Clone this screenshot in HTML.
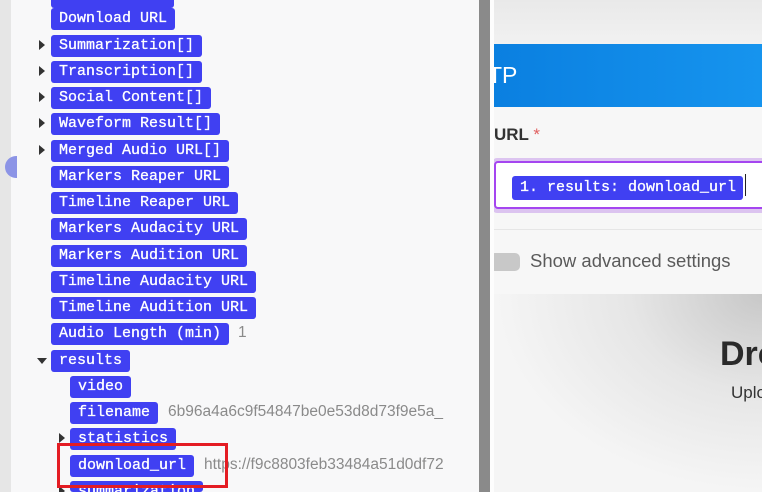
<!DOCTYPE html>
<html><head><style>
*{margin:0;padding:0;box-sizing:border-box}
html,body{width:762px;height:492px;overflow:hidden}
body{position:relative;background:#f8f8f9;font-family:"Liberation Sans",sans-serif}
.strip{position:absolute;left:0;top:0;width:11px;height:492px;background:#e6e6e6}
.knob{position:absolute;left:5px;top:156px;width:12px;height:22px;border-radius:11px 0 0 11px;background:#8c94e6}
.p{position:absolute;height:22px;background:#4040f2;color:#fff;border-radius:3px;font-family:"Liberation Mono",monospace;font-size:15px;line-height:22px;padding:0 8px;white-space:nowrap;font-weight:normal;-webkit-text-stroke:0.3px #fff}
.t{position:absolute;width:0;height:0;border-top:5px solid transparent;border-bottom:5px solid transparent;border-left:6px solid #333}
.td{position:absolute;width:0;height:0;border-left:5px solid transparent;border-right:5px solid transparent;border-top:6px solid #333}
.v{position:absolute;color:#8a8a8a;font-size:15.5px;white-space:nowrap}
.bar{position:absolute;left:479px;top:0;width:11px;height:492px;background:#8a8a8a}
.wh{position:absolute;left:490px;top:0;width:4px;height:492px;background:#fdfdfd}
.right{position:absolute;left:494px;top:0;width:268px;height:492px;background:#f7f7f7;overflow:hidden}
</style></head><body>
<div class="strip"></div><div class="knob"></div>
<div class="p" style="left:51px;top:-14px;width:123px"></div>
<div class="p" style="left:51px;top:8px">Download URL</div>
<div class="t" style="left:39px;top:40px"></div><div class="p" style="left:51px;top:35px">Summarization[]</div>
<div class="t" style="left:39px;top:66px"></div><div class="p" style="left:51px;top:61px">Transcription[]</div>
<div class="t" style="left:39px;top:92px"></div><div class="p" style="left:51px;top:87px">Social Content[]</div>
<div class="t" style="left:39px;top:118px"></div><div class="p" style="left:51px;top:113px">Waveform Result[]</div>
<div class="t" style="left:39px;top:145px"></div><div class="p" style="left:51px;top:140px">Merged Audio URL[]</div>
<div class="p" style="left:51px;top:166px">Markers Reaper URL</div>
<div class="p" style="left:51px;top:192px">Timeline Reaper URL</div>
<div class="p" style="left:51px;top:218px">Markers Audacity URL</div>
<div class="p" style="left:51px;top:245px">Markers Audition URL</div>
<div class="p" style="left:51px;top:271px">Timeline Audacity URL</div>
<div class="p" style="left:51px;top:297px">Timeline Audition URL</div>
<div class="p" style="left:51px;top:323px">Audio Length (min)</div><div class="v" style="left:238px;top:324px">1</div>
<div class="td" style="left:37px;top:358px"></div><div class="p" style="left:51px;top:350px">results</div>
<div class="p" style="left:70px;top:376px">video</div>
<div class="p" style="left:70px;top:402px">filename</div><div class="v" style="left:168px;top:403px;width:290px;overflow:hidden">6b96a4a6c9f54847be0e53d8d73f9e5a_</div>
<div class="t" style="left:59px;top:433px"></div><div class="p" style="left:70px;top:428px">statistics</div>
<div class="p" style="left:70px;top:455px">download_url</div><div class="v" style="left:204px;top:456px;width:255px;overflow:hidden">https://f9c8803feb33484a51d0df72</div>
<div class="t" style="left:59px;top:486px"></div><div class="p" style="left:70px;top:481px;height:11px">summarization</div>
<div style="position:absolute;left:57px;top:443px;width:171px;height:45px;border:3px solid #e41c23"></div>
<div class="bar"></div><div class="wh"></div>
<div class="right">
<div style="position:absolute;left:0;top:0;width:268px;height:44px;background:linear-gradient(#e9e9e9,#f1f1f1)"></div>
<div style="position:absolute;left:-6px;top:44px;width:274px;height:63px;background:linear-gradient(90deg,#0a7fe0,#1694ee);color:#fff;font-size:23px;line-height:63px">TP</div>
<div style="position:absolute;left:0;top:125px;font-size:17px;font-weight:bold;color:#333">URL <span style="color:#e06060;font-weight:normal">*</span></div>
<div style="position:absolute;left:-2px;top:158px;width:280px;height:55px;background:#dcc4f0;border-radius:5px"></div>
<div style="position:absolute;left:0;top:161px;width:280px;height:48px;background:#fff;border:2px solid #a545f0;border-radius:4px"></div>
<div class="p" style="left:18px;top:176px;width:231px;height:24px;line-height:24px">1. results: download_url</div>
<div style="position:absolute;left:251px;top:174px;width:1px;height:22px;background:#222"></div>
<div style="position:absolute;left:0;top:229px;width:268px;height:1px;background:#e6e6e6"></div>
<div style="position:absolute;left:-4px;top:253px;width:30px;height:18px;background:#c8c8c8;border-radius:5px"></div>
<div style="position:absolute;left:36px;top:250px;font-size:18.5px;color:#5a5a5a">Show advanced settings</div>
<div style="position:absolute;left:0;top:294px;width:268px;height:198px;background:radial-gradient(ellipse at 100% 0%,#c8c8c8 0%,#e6e6e6 35%,#f5f5f5 70%)"></div>
<div style="position:absolute;left:226px;top:335px;font-size:34px;font-weight:bold;color:#2a2a2a">Dro</div>
<div style="position:absolute;left:237px;top:383px;font-size:17px;color:#333">Uplo</div>
</div>
</body></html>
